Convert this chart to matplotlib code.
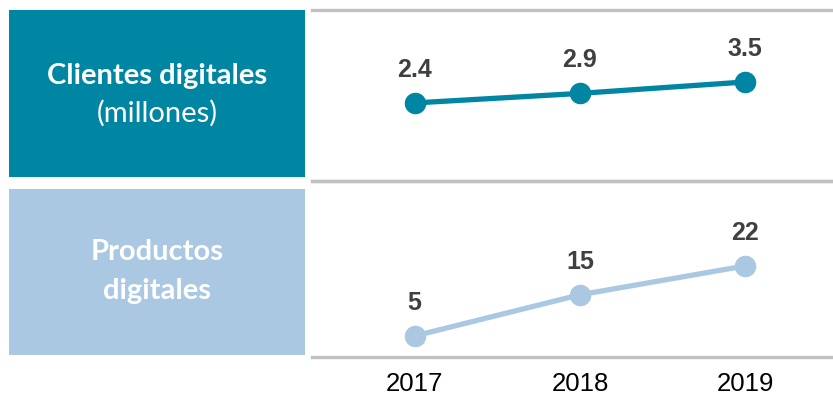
"""Digital clients and digital products, 2017-2019."""

import matplotlib.pyplot as plt
from matplotlib.patches import Rectangle

years = [2017, 2018, 2019]
clientes = [2.4, 2.9, 3.5]
productos = [5, 15, 22]
clientes_labels = ["2.4", "2.9", "3.5"]
productos_labels = ["5", "15", "22"]

W, H = 833, 400
TEAL = "#0086a3"
LIGHT = "#abc8e2"
GREY = "#c0c0c0"
DARK = "#404040"


def fx(px):
    return px / W


def fy(py):
    return 1 - py / H


fig = plt.figure(figsize=(W / 100, H / 100), dpi=100)

# left label boxes
fig.patches.append(Rectangle((fx(9), fy(177)), fx(296), 167 / H, transform=fig.transFigure,
                             facecolor=TEAL, edgecolor="none"))
fig.patches.append(Rectangle((fx(9), fy(355)), fx(296), 166 / H, transform=fig.transFigure,
                             facecolor=LIGHT, edgecolor="none"))
fig.text(fx(157), fy(76), "Clientes digitales", color="white", fontsize=21, fontweight="bold",
         family="Lato", ha="center", va="center")
fig.text(fx(157), fy(113), "(millones)", color="white", fontsize=21,
         family="Lato", ha="center", va="center")
fig.text(fx(157), fy(252), "Productos", color="white", fontsize=21, fontweight="bold",
         family="Lato", ha="center", va="center")
fig.text(fx(157), fy(291), "digitales", color="white", fontsize=21, fontweight="bold",
         family="Lato", ha="center", va="center")


def panel(top, bottom, values, labels, color, ylim, show_years):
    ax = fig.add_axes([fx(312), fy(bottom), fx(W - 312), (bottom - top) / H])
    ax.plot(years, values, color=color, linewidth=3.8, marker="o", markersize=14.5,
            solid_capstyle="round", clip_on=False, zorder=3)
    for x, v, lab in zip(years, values, labels):
        ax.annotate(lab, (x, v), xytext=(0, 33), textcoords="offset pixels", ha="center",
                    va="center", fontsize=18, fontweight="bold", color=DARK,
                    family="Liberation Sans")
    ax.set_xlim(2016.38, 2019.53)
    ax.set_ylim(*ylim)
    ax.set_facecolor("none")
    for side in ("left", "right"):
        ax.spines[side].set_visible(False)
    for side in ("top", "bottom"):
        ax.spines[side].set_color(GREY)
        ax.spines[side].set_linewidth(2.4)
    ax.set_yticks([])
    ax.tick_params(axis="x", length=0, pad=11, labelsize=18.5, labelcolor="black")
    ax.set_xticks(years)
    if show_years:
        ax.set_xticklabels([str(y) for y in years], family="Liberation Sans")
    else:
        ax.set_xticklabels([])
    return ax


panel(10, 181, clientes, clientes_labels, TEAL, (-1.69, 7.27), False)
panel(181, 357, productos, productos_labels, LIGHT, (-0.1, 42.6), True)

fig.savefig("out.png", dpi=100)
